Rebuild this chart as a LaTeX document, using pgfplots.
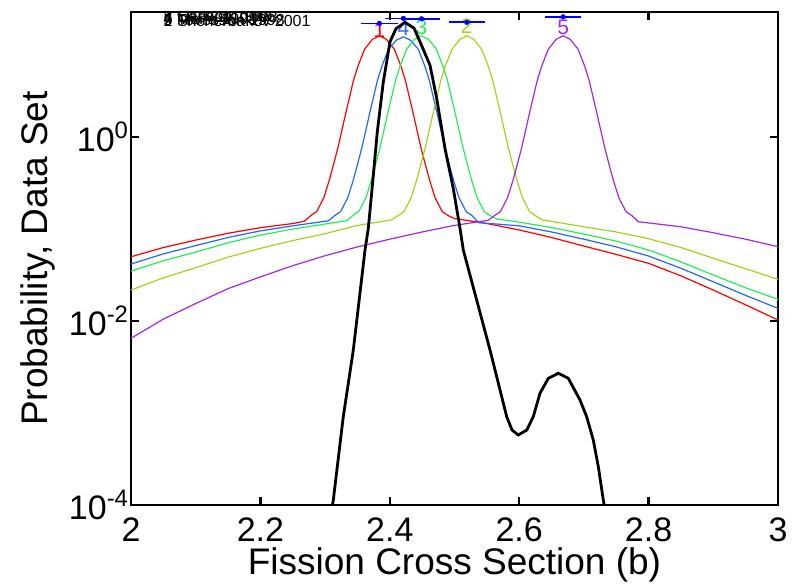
\documentclass[border=0pt]{standalone}
\usepackage{fontspec}
\setmainfont{Liberation Sans}
\usepackage{pgfplots}
\pgfplotsset{compat=1.18}
\definecolor{cRed}{RGB}{255,0,0}
\definecolor{cBlue}{RGB}{40,100,255}
\definecolor{cGreen}{RGB}{40,235,90}
\definecolor{cYG}{RGB}{165,210,30}
\definecolor{cPurple}{RGB}{165,40,225}
\definecolor{cMark}{RGB}{0,0,255}
\begin{document}
\begin{tikzpicture}
\begin{axis}[
  name=ax,
  scale only axis,
  width=323.5pt, height=246.5pt,
  xmin=2, xmax=3, ymin=1e-4, ymax=22.9,
  ymode=log,
  xtick={2,2.2,2.4,2.6,2.8,3},
  xticklabels={2,2.2,2.4,2.6,2.8,3},
  ytick={1e-4,1e-2,1},
  yticklabels={10\textsuperscript{-4},10\textsuperscript{-2},10\textsuperscript{0}},
  yminorticks=false,
  tick align=inside,
  major tick length=4pt,
  axis line style={line width=1.2pt},
  every tick/.style={black, line width=1.2pt},
  tick label style={font=\fontsize{17}{18}\selectfont},
  xticklabel style={yshift=-3pt},
  yticklabel style={xshift=2.5pt},
  label style={font=\fontsize{18.5}{20}\selectfont},
  xlabel={Fission Cross Section (b)},
  xlabel style={at={(axis description cs:0.5,0)}, anchor=north, yshift=-18pt},
  ylabel={Probability, Data Set},
]
\addplot[cRed, line width=0.6pt] coordinates {
(2.000,0.0500) (2.050,0.0630) (2.100,0.0759) (2.150,0.0900) (2.200,0.1035) (2.250,0.1148) (2.268,0.1216) (2.278,0.1403)
(2.287,0.1549) (2.298,0.2188) (2.306,0.3311) (2.313,0.5012) (2.320,0.7762) (2.326,1.189) (2.332,1.828) (2.338,2.754) (2.344,4.169) (2.351,5.957) (2.361,9.016) (2.373,11.53) (2.384,12.62)
(2.395,11.53) (2.407,9.016) (2.417,5.957) (2.424,4.169) (2.430,2.754) (2.436,1.828) (2.442,1.189) (2.448,0.7762) (2.455,0.5012) (2.462,0.3311) (2.470,0.2188) (2.481,0.1549) (2.490,0.1403) (2.500,0.1303)
(2.550,0.1148) (2.600,0.0977) (2.650,0.0810) (2.700,0.0653) (2.750,0.0530) (2.800,0.0424) (2.850,0.0310) (2.900,0.0217) (2.950,0.0150) (3.000,0.01026)};
\addplot[cBlue, line width=0.6pt] coordinates {
(2.000,0.0417) (2.050,0.0537) (2.100,0.0661) (2.150,0.0810) (2.200,0.0955) (2.250,0.1084) (2.305,0.1230) (2.315,0.1403)
(2.324,0.1549) (2.335,0.2188) (2.343,0.3311) (2.350,0.5012) (2.357,0.7762) (2.363,1.189) (2.369,1.828) (2.375,2.754) (2.381,4.169) (2.388,5.957) (2.398,9.016) (2.410,11.3) (2.421,12.3)
(2.432,11.3) (2.444,9.016) (2.454,5.957) (2.461,4.169) (2.467,2.754) (2.473,1.828) (2.479,1.189) (2.485,0.7762) (2.492,0.5012) (2.499,0.3311) (2.507,0.2188) (2.518,0.1549) (2.527,0.1403) (2.537,0.1175)
(2.600,0.1084) (2.650,0.0930) (2.700,0.0776) (2.750,0.0640) (2.800,0.0509) (2.850,0.0375) (2.900,0.0267) (2.950,0.0190) (3.000,0.01374)};
\addplot[cGreen, line width=0.6pt] coordinates {
(2.000,0.0349) (2.050,0.0452) (2.100,0.0562) (2.150,0.0710) (2.200,0.0861) (2.250,0.1000) (2.300,0.1135) (2.333,0.1230) (2.343,0.1403)
(2.352,0.1549) (2.363,0.2188) (2.371,0.3311) (2.378,0.5012) (2.385,0.7762) (2.391,1.189) (2.397,1.828) (2.403,2.754) (2.409,4.169) (2.416,5.957) (2.426,9.016) (2.438,11.53) (2.449,12.62)
(2.460,11.53) (2.472,9.016) (2.482,5.957) (2.489,4.169) (2.495,2.754) (2.501,1.828) (2.507,1.189) (2.513,0.7762) (2.520,0.5012) (2.527,0.3311) (2.535,0.2188) (2.546,0.1549) (2.555,0.1403) (2.565,0.1288)
(2.600,0.1189) (2.650,0.1040) (2.700,0.0881) (2.750,0.0740) (2.800,0.0592) (2.850,0.0440) (2.900,0.0316) (2.950,0.0230) (3.000,0.0172)};
\addplot[cYG, line width=0.6pt] coordinates {
(2.000,0.0217) (2.050,0.0295) (2.100,0.0380) (2.150,0.0495) (2.200,0.0617) (2.250,0.0750) (2.300,0.0891) (2.350,0.1096) (2.403,0.1259) (2.413,0.1403)
(2.422,0.1549) (2.433,0.2188) (2.441,0.3311) (2.448,0.5012) (2.455,0.7762) (2.461,1.189) (2.467,1.828) (2.473,2.754) (2.479,4.169) (2.486,5.957) (2.496,9.016) (2.508,11.53) (2.519,12.62)
(2.530,11.53) (2.542,9.016) (2.552,5.957) (2.559,4.169) (2.565,2.754) (2.571,1.828) (2.577,1.189) (2.583,0.7762) (2.590,0.5012) (2.597,0.3311) (2.605,0.2188) (2.616,0.1549) (2.625,0.1403) (2.635,0.1259)
(2.700,0.1059) (2.750,0.0930) (2.800,0.0785) (2.850,0.0630) (2.900,0.0481) (2.950,0.0370) (3.000,0.0284)};
\addplot[cPurple, line width=0.6pt] coordinates {
(2.000,0.00649) (2.050,0.0105) (2.100,0.0155) (2.150,0.0225) (2.200,0.0302) (2.250,0.0400) (2.300,0.0513) (2.350,0.0640) (2.400,0.0776) (2.450,0.0930) (2.500,0.1096) (2.552,0.1245) (2.562,0.1403)
(2.571,0.1549) (2.582,0.2188) (2.590,0.3311) (2.597,0.5012) (2.604,0.7762) (2.610,1.189) (2.616,1.828) (2.622,2.754) (2.628,4.169) (2.635,5.957) (2.645,9.016) (2.657,11.53) (2.668,12.62)
(2.679,11.53) (2.691,9.016) (2.701,5.957) (2.708,4.169) (2.714,2.754) (2.720,1.828) (2.726,1.189) (2.732,0.7762) (2.739,0.5012) (2.746,0.3311) (2.754,0.2188) (2.765,0.1549) (2.774,0.1403) (2.784,0.1202)
(2.850,0.1059) (2.900,0.0912) (2.950,0.0776) (3.000,0.0643)};
\node[text=cRed, font=\fontsize{10.5}{11}\selectfont, inner sep=0] at (axis cs:2.384,14.6) {1};
\node[text=cBlue, font=\fontsize{10.5}{11}\selectfont, inner sep=0] at (axis cs:2.421,15.3) {4};
\node[text=cGreen, font=\fontsize{10.5}{11}\selectfont, inner sep=0] at (axis cs:2.449,15.5) {3};
\node[text=cYG, font=\fontsize{10.5}{11}\selectfont, inner sep=0] at (axis cs:2.519,15.9) {2};
\node[text=cPurple, font=\fontsize{10.5}{11}\selectfont, inner sep=0] at (axis cs:2.668,15.5) {5};
\addplot[black, line width=1.4pt] coordinates {
(2.3076,0.0000687) (2.3127,0.0001132) (2.3281,0.000912) (2.3436,0.00484) (2.3617,0.0592) (2.3668,0.1019) (2.3736,0.3266) (2.3807,1.143) (2.390,3.99) (2.4003,10.86) (2.4096,15.1) (2.4235,17.66) (2.4374,15.3) (2.4467,10.86) (2.4621,6.06) (2.4725,2.63) (2.4853,0.753) (2.4981,0.2768) (2.5085,0.1019) (2.5136,0.0592) (2.5343,0.0169) (2.5549,0.00484) (2.5807,0.000912) (2.5889,0.000653) (2.5986,0.000577) (2.6116,0.000653) (2.6218,0.000912) (2.6321,0.001637) (2.645,0.002384) (2.6604,0.002704) (2.6759,0.002384) (2.694,0.001384) (2.7043,0.000912) (2.7145,0.000509) (2.7223,0.0002606) (2.730,0.0001132) (2.7326,0.0000883)};
\addplot[cMark, line width=0.8pt] coordinates {(2.356,17.2) (2.412,17.2)};
\addplot[cMark, line width=0.8pt] coordinates {(2.393,19.5) (2.449,19.5)};
\addplot[cMark, line width=0.8pt] coordinates {(2.421,19.3) (2.477,19.3)};
\addplot[cMark, line width=0.8pt] coordinates {(2.491,17.7) (2.547,17.7)};
\addplot[cMark, line width=0.8pt] coordinates {(2.640,20.3) (2.696,20.3)};
\addplot[cMark, only marks, mark=*, mark size=1.1pt] coordinates {
(2.384,17.2) (2.421,19.5) (2.449,19.3) (2.519,17.7) (2.668,20.3)};
\node[anchor=west, inner sep=0, font=\fontsize{8}{8}\selectfont] at (axis cs:2.05,20.93) {1 Carlson 1998};
\node[anchor=west, inner sep=0, font=\fontsize{8}{8}\selectfont] at (axis cs:2.05,20.15) {3 Lisowski 1998};
\node[anchor=west, inner sep=0, font=\fontsize{8}{8}\selectfont] at (axis cs:2.05,19.41) {4 Merla 1998};
\node[anchor=west, inner sep=0, font=\fontsize{8}{8}\selectfont] at (axis cs:2.05,18.70) {5 Tovesson 1998};
\node[anchor=west, inner sep=0, font=\fontsize{8}{8}\selectfont] at (axis cs:2.05,18.24) {2 Shcherbakov 2001};
\end{axis}
\pgfresetboundingbox
\path[use as bounding box] ([xshift=-65.5pt,yshift=-39.5pt]ax.south west) rectangle ([xshift=10.5pt,yshift=6pt]ax.north east);
\end{tikzpicture}
\end{document}
